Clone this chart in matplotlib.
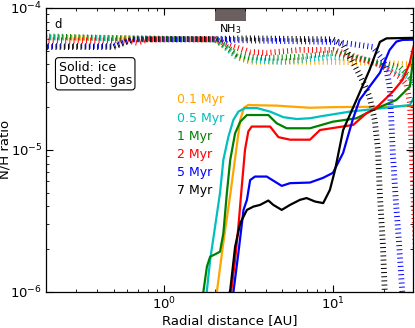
import matplotlib
matplotlib.use('Agg')
import matplotlib.pyplot as plt
import numpy as np

# time labels and colours
labels = ['0.1 Myr', '0.5 Myr', '1 Myr', '2 Myr', '5 Myr', '7 Myr']
colors = ['#FFA500', '#00BFBF', '#008000', '#FF0000', '#0000FF', '#000000']

# ice (solid) N/H profiles, radius in AU
ice_x = [
    [2.02, 2.05, 2.23, 2.46, 2.67, 2.82, 2.97, 3.14, 3.70, 4.64, 5.57, 7.31, 10.0, 15.8, 22.6, 29.7, 31.0],
    [1.77, 1.79, 1.87, 2.00, 2.14, 2.24, 2.40, 2.57, 2.75, 3.01, 3.54, 4.24, 5.08, 6.10, 7.31, 8.38, 12.6, 19.8, 28.6, 29.7, 31.0],
    [1.69, 1.71, 1.79, 1.87, 2.00, 2.14, 2.24, 2.35, 2.46, 2.63, 2.82, 3.09, 4.14, 4.64, 5.32, 7.31, 10.0, 13.8, 17.3, 23.8, 28.6, 29.7, 31.0],
    [2.47, 2.49, 2.63, 2.75, 2.88, 3.01, 3.15, 3.30, 4.24, 4.75, 5.57, 7.31, 8.38, 13.2, 15.8, 18.1, 22.6, 25.9, 28.6, 29.7, 31.0],
    [2.55, 2.57, 2.75, 2.95, 3.09, 3.23, 3.45, 4.05, 4.97, 5.57, 7.31, 8.73, 10.0, 11.5, 13.1, 14.4, 16.5, 19.0, 21.7, 23.8, 25.9, 29.7, 31.0],
    [2.38, 2.46, 2.63, 2.82, 3.09, 3.38, 3.70, 4.14, 4.43, 4.97, 5.57, 6.38, 6.98, 7.83, 8.76, 9.60, 10.3, 11.5, 13.8, 16.5, 19.0, 20.8, 29.7, 31.0],
]
ice_y = [
    [9e-7, 1.0e-6, 2.14e-6, 4.82e-6, 1.0e-5, 1.63e-5, 1.98e-5, 2.07e-5, 2.06e-5, 2.05e-5, 2.02e-5, 1.98e-5, 2.0e-5, 2.01e-5, 2.02e-5, 2.04e-5, 2.05e-5],
    [9e-7, 1.03e-6, 1.68e-6, 2.88e-6, 4.98e-6, 8.51e-6, 1.24e-5, 1.63e-5, 1.86e-5, 1.97e-5, 1.97e-5, 1.86e-5, 1.70e-5, 1.65e-5, 1.67e-5, 1.72e-5, 1.86e-5, 1.97e-5, 2.07e-5, 2.25e-5, 2.5e-5],
    [9e-7, 1.03e-6, 1.51e-6, 1.77e-6, 1.84e-6, 1.92e-6, 2.59e-6, 4.98e-6, 8.51e-6, 1.31e-5, 1.58e-5, 1.76e-5, 1.76e-5, 1.54e-5, 1.42e-5, 1.42e-5, 1.58e-5, 1.67e-5, 1.91e-5, 2.25e-5, 2.79e-5, 4.07e-5, 6.0e-5],
    [9e-7, 1.0e-6, 1.68e-6, 2.88e-6, 5.51e-6, 1.0e-5, 1.35e-5, 1.46e-5, 1.46e-5, 1.23e-5, 1.18e-5, 1.18e-5, 1.38e-5, 1.50e-5, 1.81e-5, 1.98e-5, 2.56e-5, 3.11e-5, 4.10e-5, 5.06e-5, 6.0e-5],
    [9e-7, 1.0e-6, 1.88e-6, 3.78e-6, 4.45e-6, 6.13e-6, 6.49e-6, 6.49e-6, 5.58e-6, 5.83e-6, 5.89e-6, 6.35e-6, 6.89e-6, 9.53e-6, 1.63e-5, 2.25e-5, 2.79e-5, 3.49e-5, 5.06e-5, 5.79e-5, 5.95e-5, 5.97e-5, 5.97e-5],
    [9e-7, 1.03e-6, 2.08e-6, 3.05e-6, 3.78e-6, 3.99e-6, 4.10e-6, 4.40e-6, 4.10e-6, 3.78e-6, 4.10e-6, 4.45e-6, 4.58e-6, 4.33e-6, 4.22e-6, 5.23e-6, 7.23e-6, 1.38e-5, 2.25e-5, 3.66e-5, 5.76e-5, 6.1e-5, 6.15e-5, 6.15e-5],
]

# gas (dotted) N/H profiles
gas_x = [
    [0.2, 2.0, 2.3, 2.7, 3.2, 5.0, 10.0, 20.0, 29.7, 32.0],
    [0.2, 2.0, 2.3, 2.7, 3.2, 5.06, 10.0, 15.8, 20.8, 28.6, 31.0],
    [0.2, 0.6, 2.0, 2.3, 2.7, 3.2, 4.05, 6.38, 10.0, 15.8, 24.9, 29.7, 32.0],
    [0.2, 0.6, 0.69, 0.8, 2.0, 2.5, 3.23, 4.05, 6.38, 10.0, 13.8, 19.0, 24.9, 27.3, 28.6, 29.2, 29.5, 31.0],
    [0.2, 0.5, 0.65, 2.0, 3.2, 10.0, 11.5, 17.2, 19.8, 20.8, 21.7, 22.2, 22.7, 23.6, 24.6, 25.8, 26.4],
    [0.2, 0.5, 0.65, 2.0, 3.2, 10.0, 11.5, 12.9, 14.4, 15.6, 16.5, 17.7, 18.5, 19.0, 19.8, 20.3, 20.6],
]
gas_y = [
    [6.2e-5, 6.0e-5, 5.3e-5, 4.5e-5, 4.17e-5, 4.17e-5, 4.17e-5, 4.1e-5, 4.0e-5, 4.0e-5],
    [6.2e-5, 6.0e-5, 5.3e-5, 4.5e-5, 4.3e-5, 4.17e-5, 4.52e-5, 4.3e-5, 3.84e-5, 3.2e-5, 2.8e-5],
    [6.3e-5, 6.1e-5, 6.0e-5, 5.4e-5, 4.7e-5, 4.5e-5, 4.44e-5, 4.52e-5, 4.82e-5, 4.3e-5, 3.84e-5, 3.1e-5, 2.6e-5],
    [5.9e-5, 5.9e-5, 5.67e-5, 6.0e-5, 6.0e-5, 5.4e-5, 4.9e-5, 4.82e-5, 5.06e-5, 5.06e-5, 4.52e-5, 3.97e-5, 3.27e-5, 2.9e-5, 2.14e-5, 1.18e-5, 8.1e-6, 2e-6],
    [5.4e-5, 5.4e-5, 6.0e-5, 6.0e-5, 5.9e-5, 5.76e-5, 5.67e-5, 5.31e-5, 4.3e-5, 3.66e-5, 2.78e-5, 1.63e-5, 9.2e-6, 4.45e-6, 2.32e-6, 1.0e-6, 7e-7],
    [5.3e-5, 5.3e-5, 6.0e-5, 6.05e-5, 6.1e-5, 6.0e-5, 5.49e-5, 4.3e-5, 3.37e-5, 2.78e-5, 2.36e-5, 1.63e-5, 1.0e-5, 4.82e-6, 2.14e-6, 1.0e-6, 7e-7],
]

# NH3 snowline span (AU)
nh3_span = [2.0, 3.06]

plt.rcParams['font.size'] = 9
plt.rcParams['lines.scale_dashes'] = False

fig, ax = plt.subplots(figsize=(4.15, 3.28), dpi=100)
fig.subplots_adjust(left=0.112, right=0.996, bottom=0.11, top=0.976)

for i in range(len(labels)):
    ax.plot(ice_x[i], ice_y[i], color=colors[i], lw=1.6, solid_capstyle='butt', solid_joinstyle='round')
    ax.plot(gas_x[i], gas_y[i], color=colors[i], lw=4.2,
            linestyle=(0.5 * i, (0.7, 2.3)), dash_capstyle='butt')
    ax.text(0.355, 0.676 - 0.064 * i, labels[i], color=colors[i],
            transform=ax.transAxes, va='center', ha='left', fontsize=9)

ax.axvspan(nh3_span[0], nh3_span[1], ymin=0.955, ymax=1.0, color='#6b5f5f', lw=0)
ax.text(np.sqrt(nh3_span[0] * nh3_span[1]), 0.925, 'NH$_3$', transform=ax.get_xaxis_transform(),
        ha='center', va='center', fontsize=8)

ax.text(0.022, 0.942, 'd', transform=ax.transAxes, ha='left', va='center', fontsize=8.5)
ax.text(0.033, 0.768, 'Solid: ice\nDotted: gas', transform=ax.transAxes, ha='left', va='center',
        fontsize=9, linespacing=1.0,
        bbox=dict(boxstyle='round,pad=0.25', fc='white', ec='black', lw=0.8))

ax.set_xscale('log')
ax.set_yscale('log')
ax.set_xlim(0.2, 30)
ax.set_ylim(1e-6, 1e-4)
ax.set_xlabel('Radial distance [AU]', fontsize=9.5, labelpad=1)
ax.set_ylabel('N/H ratio', fontsize=9.5, labelpad=-1)
ax.tick_params(which='both', direction='in', top=True, right=True, labelsize=9.5, pad=3)
ax.tick_params(which='major', length=5, width=0.8)
ax.tick_params(which='minor', length=2.5, width=0.6)
for s in ax.spines.values():
    s.set_linewidth(0.9)

fig.savefig('out.png', dpi=100)
